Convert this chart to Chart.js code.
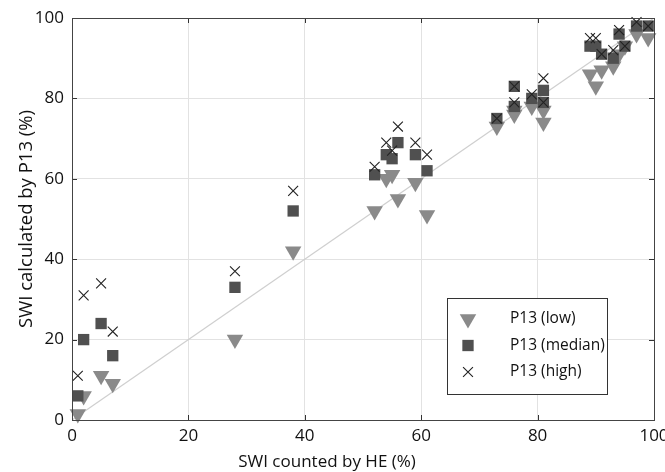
<!DOCTYPE html>
<html>
<head>
<meta charset="utf-8">
<script src="https://cdn.jsdelivr.net/npm/chart.js@4"></script>
<style>
html,body{margin:0;padding:0;background:#fff;}
#wrap{width:665px;height:472px;}
</style>
</head>
<body>
<div id="wrap"><canvas id="c" width="665" height="472"></canvas></div>
<script>
// ---- data ----
const heValues   = [1, 2, 5, 7, 28, 38, 52, 54, 55, 56, 59, 61, 73, 76, 76, 79, 81, 81, 89, 90, 91, 93, 94, 95, 97, 99];
const p13Low     = [1.5, 6, 11, 9, 20, 42, 52, 60, 61, 55, 59, 51, 73, 76, 77, 78, 77, 74, 86, 83, 87, 88, 91, 93, 96, 95];
const p13Median  = [6, 20, 24, 16, 33, 52, 61, 66, 65, 69, 66, 62, 75, 83, 78, 80, 82, 79, 93, 93, 91, 90, 96, 93, 98, 98];
const p13High    = [11, 31, 34, 22, 37, 57, 63, 69, 67, 73, 69, 66, 75, 83, 79, 81, 85, 79, 95, 95, 91, 92, 97, 93, 99, 98];
const identityX  = [0, 100];
const identityY  = [0, 100];
const seriesNames = ['P13 (low)', 'P13 (median)', 'P13 (high)'];
const tickValues = [0, 20, 40, 60, 80, 100];
const xTitle = 'SWI counted by HE (%)';
const yTitle = 'SWI calculated by P13 (%)';

const pts = (xs, ys) => xs.map((x, i) => ({x: x, y: ys[i]}));
const FONT = "'Open Sans', 'DejaVu Sans', sans-serif";

const frame = {
  id: 'frame',
  afterDatasetsDraw(chart) {
    const {ctx, chartArea: a, scales} = chart;
    ctx.save();
    ctx.strokeStyle = '#333';
    ctx.lineWidth = 1;
    const tl = 5;
    tickValues.forEach(v => {
      const px = Math.round(scales.x.getPixelForValue(v)) + 0.5;
      const py = Math.round(scales.y.getPixelForValue(v)) + 0.5;
      ctx.beginPath();
      ctx.moveTo(px, a.bottom); ctx.lineTo(px, a.bottom - tl);
      ctx.moveTo(px, a.top); ctx.lineTo(px, a.top + tl);
      ctx.moveTo(a.left, py); ctx.lineTo(a.left + tl, py);
      ctx.moveTo(a.right, py); ctx.lineTo(a.right - tl, py);
      ctx.stroke();
    });
    ctx.strokeStyle = '#444';
    ctx.strokeRect(Math.round(a.left) + 0.5, Math.round(a.top) + 0.5,
                   Math.round(a.right - a.left), Math.round(a.bottom - a.top));
    // legend box
    const lx = Math.round(a.right - 207), ly = Math.round(a.bottom - 122), lw = 160, lh = 96;
    ctx.fillStyle = '#fff';
    ctx.fillRect(lx, ly, lw, lh);
    ctx.strokeStyle = '#333';
    ctx.strokeRect(lx + 0.5, ly + 0.5, lw, lh);
    const order = [2, 1, 0];
    order.forEach((di, row) => {
      const ds = chart.data.datasets[di];
      const cy = ly + 21 + row * 26.5;
      const cx = lx + 21;
      ctx.fillStyle = ds.backgroundColor;
      ctx.strokeStyle = ds.borderColor;
      ctx.lineWidth = ds.borderWidth;
      Chart.helpers.drawPoint(ctx, {
        pointStyle: ds.pointStyle, rotation: ds.pointRotation || 0,
        radius: ds.pointRadius, borderWidth: ds.borderWidth
      }, cx, cy);
      ctx.fillStyle = '#111';
      ctx.font = '15.5px ' + FONT;
      ctx.textBaseline = 'middle';
      ctx.textAlign = 'left';
      ctx.fillText(ds.label, lx + 63, cy);
    });
    ctx.restore();
  }
};

new Chart(document.getElementById('c'), {
  type: 'scatter',
  data: {
    datasets: [
      { label: seriesNames[2], data: pts(heValues, p13High), order: 0,
        pointStyle: 'crossRot', pointRadius: 7, borderWidth: 1.1,
        borderColor: '#222', backgroundColor: '#222', clip: false },
      { label: seriesNames[1], data: pts(heValues, p13Median), order: 1,
        pointStyle: 'rect', pointRadius: 8, borderWidth: 0,
        borderColor: '#505050', backgroundColor: '#505050', clip: false },
      { label: seriesNames[0], data: pts(heValues, p13Low), order: 2,
        pointStyle: 'triangle', pointRotation: 180, pointRadius: 9.5, borderWidth: 0,
        borderColor: '#8a8a8a', backgroundColor: '#8a8a8a', clip: false },
      { type: 'line', label: 'identity', data: pts(identityX, identityY), order: 3,
        borderColor: '#cfcfcf', borderWidth: 1.2, pointRadius: 0, fill: false }
    ]
  },
  plugins: [frame],
  options: {
    responsive: false,
    animation: false,
    events: [],
    layout: { padding: { top: 18, right: 11, left: 0, bottom: 0 } },
    plugins: {
      legend: { display: false },
      tooltip: { enabled: false },
      title: { display: true, position: 'bottom', text: xTitle, color: '#111',
               font: { size: 17, family: FONT, weight: 'normal' },
               padding: { top: 4, bottom: 0 } }
    },
    scales: {
      x: {
        type: 'linear', min: 0, max: 100,
        afterBuildTicks: s => { s.ticks = tickValues.map(v => ({value: v})); },
        afterFit: s => { s.height = 472 - 420 - 24.4; s.paddingLeft = 0; s.paddingRight = 0; },
        grid: { color: '#e2e2e2', drawTicks: false },
        border: { display: false },
        ticks: { color: '#111', font: { size: 17, family: FONT }, padding: 6, maxRotation: 0 },
        title: { display: false }
      },
      y: {
        type: 'linear', min: 0, max: 100,
        afterBuildTicks: s => { s.ticks = tickValues.map(v => ({value: v})); },
        afterFit: s => { s.width = 72; s.paddingTop = 0; s.paddingBottom = 0; },
        grid: { color: '#e2e2e2', drawTicks: false },
        border: { display: false },
        ticks: { color: '#111', font: { size: 17, family: FONT }, padding: 8 },
        title: { display: true, text: yTitle, color: '#111',
                 font: { size: 18.5, family: FONT }, padding: { top: 16, bottom: 0 } }
      }
    }
  }
});
</script>
</body>
</html>
